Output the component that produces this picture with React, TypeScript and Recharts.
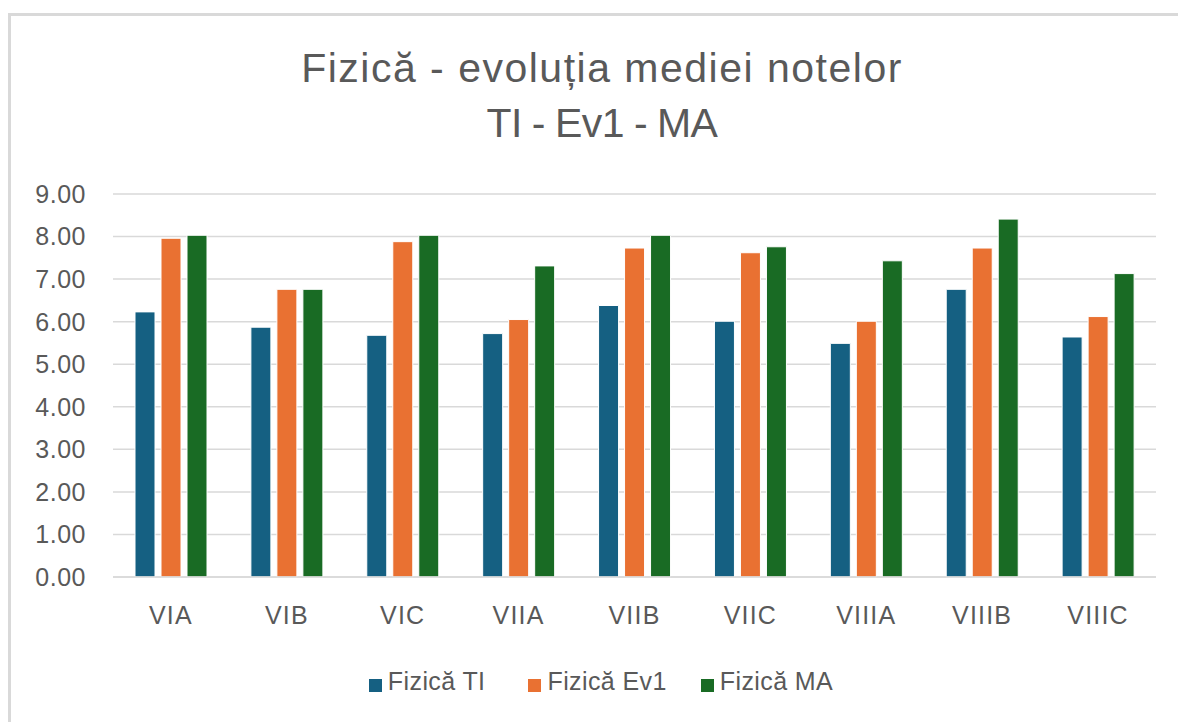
import { BarChart, Bar, XAxis, YAxis, CartesianGrid, Legend } from "recharts";

const classes = ["VIA", "VIB", "VIC", "VIIA", "VIIB", "VIIC", "VIIIA", "VIIIB", "VIIIC"];
const fizicaTI = [6.23, 5.87, 5.68, 5.72, 6.38, 6.01, 5.49, 6.76, 5.64];
const fizicaEv1 = [7.96, 6.76, 7.88, 6.05, 7.73, 7.62, 6.01, 7.73, 6.12];
const fizicaMA = [8.03, 6.76, 8.03, 7.31, 8.03, 7.76, 7.43, 8.41, 7.13];
const yTicks = [0, 1, 2, 3, 4, 5, 6, 7, 8, 9];
const seriesNames = ["Fizică TI", "Fizică Ev1", "Fizică MA"];

const data = classes.map((name, i) => ({
  name,
  ti: fizicaTI[i],
  ev1: fizicaEv1[i],
  ma: fizicaMA[i],
}));

const FONT = "'Liberation Sans', Arial, sans-serif";
const TEXT = "#595959";
const legendGaps = [33, 24, 0];

export default function App() {
  return (
    <div
      style={{
        position: "fixed",
        left: 0,
        top: 0,
        width: 1178,
        height: 722,
        overflow: "hidden",
        background: "#fff",
        fontFamily: FONT,
      }}
    >
      <div
        style={{
          position: "absolute",
          left: 8,
          top: 13,
          width: 1200,
          height: 740,
          borderLeft: "3px solid #d9d9d9",
          borderTop: "3px solid #d9d9d9",
        }}
      />
      <div
        style={{
          position: "absolute",
          left: 0,
          top: 41,
          width: 1204,
          textAlign: "center",
          color: TEXT,
          fontSize: 41,
          lineHeight: "55px",
        }}
      >
        <div style={{ letterSpacing: 1.5 }}>Fizică - evoluția mediei notelor</div>
        <div style={{ letterSpacing: -0.5, wordSpacing: -1 }}>TI - Ev1 - MA</div>
      </div>
      <div style={{ position: "absolute", left: 0, top: 0 }}>
        <BarChart
          width={1178}
          height={722}
          data={data}
          margin={{ top: 194, right: 22, left: 0, bottom: 0 }}
          barSize={20}
          barGap={6}
        >
          <CartesianGrid vertical={false} stroke="#d9d9d9" strokeWidth={1.5} />
          <XAxis
            dataKey="name"
            height={145}
            axisLine={{ stroke: "#d9d9d9", strokeWidth: 1.5 }}
            tickLine={false}
            tickMargin={23}
            tick={{ fill: TEXT, fontSize: 25, fontFamily: FONT, letterSpacing: 1.2 }}
          />
          <YAxis
            width={113}
            domain={[0, 9]}
            ticks={yTicks}
            interval={0}
            axisLine={false}
            tickLine={false}
            tickMargin={21}
            tickFormatter={(v: number) => v.toFixed(2)}
            tick={{ fill: TEXT, fontSize: 25, fontFamily: FONT, letterSpacing: 0.5 }}
          />
          <Legend
            verticalAlign="middle"
            align="center"
            iconType="square"
            iconSize={13}
            itemSorter={(item: any) => seriesNames.indexOf(item.value)}
            wrapperStyle={{ top: 667, left: 0, width: 1212 }}
            formatter={(value: string, _entry: any, index: number) => (
              <span
                style={{
                  color: TEXT,
                  fontSize: 25,
                  fontFamily: FONT,
                  letterSpacing: 0.4,
                  marginLeft: 2,
                  marginRight: legendGaps[index] ?? 0,
                }}
              >
                {value}
              </span>
            )}
          />
          <Bar dataKey="ti" name={seriesNames[0]} fill="#156082" stroke="#ffffff" strokeWidth={1} isAnimationActive={false} />
          <Bar dataKey="ev1" name={seriesNames[1]} fill="#e97132" stroke="#ffffff" strokeWidth={1} isAnimationActive={false} />
          <Bar dataKey="ma" name={seriesNames[2]} fill="#196b24" stroke="#ffffff" strokeWidth={1} isAnimationActive={false} />
        </BarChart>
      </div>
    </div>
  );
}
